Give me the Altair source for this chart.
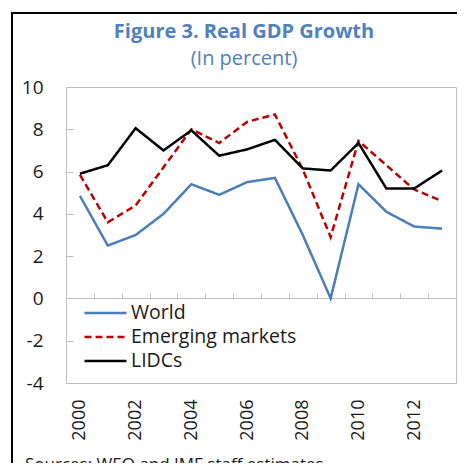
import altair as alt
import pandas as pd

years = list(range(2000, 2014))
world = [4.85, 2.5, 3.0, 4.0, 5.4, 4.9, 5.5, 5.7, 3.0, 0.0, 5.4, 4.1, 3.4, 3.3]
emerging = [5.85, 3.6, 4.4, 6.2, 8.0, 7.35, 8.35, 8.7, 6.1, 2.9, 7.45, 6.3, 5.15, 4.6]
lidcs = [5.9, 6.3, 8.05, 7.0, 7.95, 6.75, 7.05, 7.5, 6.15, 6.05, 7.35, 5.2, 5.2, 6.05]

series = ["World", "Emerging markets", "LIDCs"]
colors = ["#4A7EBB", "#C00000", "#000000"]
dashes = [[1, 0], [7, 4], [1, 0]]
y_ticks = [-4, -2, 0, 2, 4, 6, 8, 10]
x_labels = [2000, 2002, 2004, 2006, 2008, 2010, 2012]
x_bounds = [y + 0.5 for y in range(2000, 2013)]

title_text = "Figure 3. Real GDP Growth"
subtitle_text = "(In percent)"
source_text = "Sources: WEO and IMF staff estimates."

rows = []
for name, vals in zip(series, [world, emerging, lidcs]):
    for yr, v in zip(years, vals):
        rows.append({"year": yr, "value": v, "series": name})
df = pd.DataFrame(rows)

FONT = "Open Sans"
TXT = "#1a1a1a"
BLUE = "#4F81BD"
xscale = alt.Scale(domain=[1999.5, 2013.5], nice=False, zero=False)
yscale = alt.Scale(domain=[-4, 10], nice=False, zero=False)

legend_kw = dict(title=None, orient="none", legendX=17, legendY=214,
                 symbolType="stroke", symbolSize=1764, symbolStrokeWidth=2.5,
                 labelFontSize=19.5, labelFont=FONT, labelColor=TXT, labelLimit=400,
                 labelOffset=3, rowPadding=0, clipHeight=24)

lines = alt.Chart(df).mark_line(strokeWidth=2.5).encode(
    x=alt.X("year:Q", scale=xscale,
            axis=alt.Axis(orient="bottom", values=x_labels, format="d", labelAngle=-90,
                          ticks=False, domain=False, grid=False, labelPadding=16,
                          labelFontSize=18, labelColor=TXT, labelFont=FONT, title=None)),
    y=alt.Y("value:Q", scale=yscale,
            axis=alt.Axis(orient="left", values=y_ticks, offset=-7, tickSize=7, tickColor="#BFBFBF",
                          domain=False, grid=False, labelPadding=23, labelFontSize=19,
                          labelExpr="'' + datum.value",
                          labelColor=TXT, labelFont=FONT, title=None)),
    color=alt.Color("series:N", scale=alt.Scale(domain=series, range=colors),
                    legend=alt.Legend(**legend_kw)),
    strokeDash=alt.StrokeDash("series:N", scale=alt.Scale(domain=series, range=dashes),
                              legend=alt.Legend(**legend_kw)),
    order=alt.Order("year:Q"),
)

zero_axis = alt.Chart(df).mark_line(opacity=0).encode(
    x=alt.X("year:Q", scale=xscale,
            axis=alt.Axis(orient="top", values=x_bounds, offset=-211, tickSize=5, labels=False,
                          domainColor="#BFBFBF", tickColor="#BFBFBF", grid=False, title=None)),
    y=alt.Y("value:Q", scale=yscale, axis=None),
    detail="series:N",
)

one = pd.DataFrame({"a": [0]})
frame_left = alt.Chart(one).mark_rule(color="black", strokeWidth=2).encode(
    x=alt.value(-54), y=alt.value(-74), y2=alt.value(400))
frame_top = alt.Chart(one).mark_rule(color="black", strokeWidth=2).encode(
    x=alt.value(-55), x2=alt.value(420), y=alt.value(-74))
title = alt.Chart(one).mark_text(align="center", baseline="alphabetic", fontSize=20,
                                 fontWeight="bold", font=FONT, color=BLUE).encode(
    x=alt.value(178), y=alt.value(-49), text=alt.value(title_text))
subtitle = alt.Chart(one).mark_text(align="center", baseline="alphabetic", fontSize=20,
                                    font=FONT, color=BLUE).encode(
    x=alt.value(178), y=alt.value(-22), text=alt.value(subtitle_text))
source = alt.Chart(one).mark_text(align="left", baseline="alphabetic", fontSize=17,
                                  font=FONT, color=TXT).encode(
    x=alt.value(-41), y=alt.value(383), text=alt.value(source_text))

chart = alt.layer(lines, zero_axis, frame_left, frame_top, title, subtitle, source).resolve_axis(
    x="independent", y="independent"
).properties(
    width=390, height=296,
    autosize=alt.AutoSizeParams(type="none"),
    padding={"left": 58, "top": 79, "right": 1, "bottom": 80},
).configure_view(stroke="#BFBFBF", strokeWidth=1)

chart.save("out.html", embed_options={"renderer": "svg", "actions": False})
